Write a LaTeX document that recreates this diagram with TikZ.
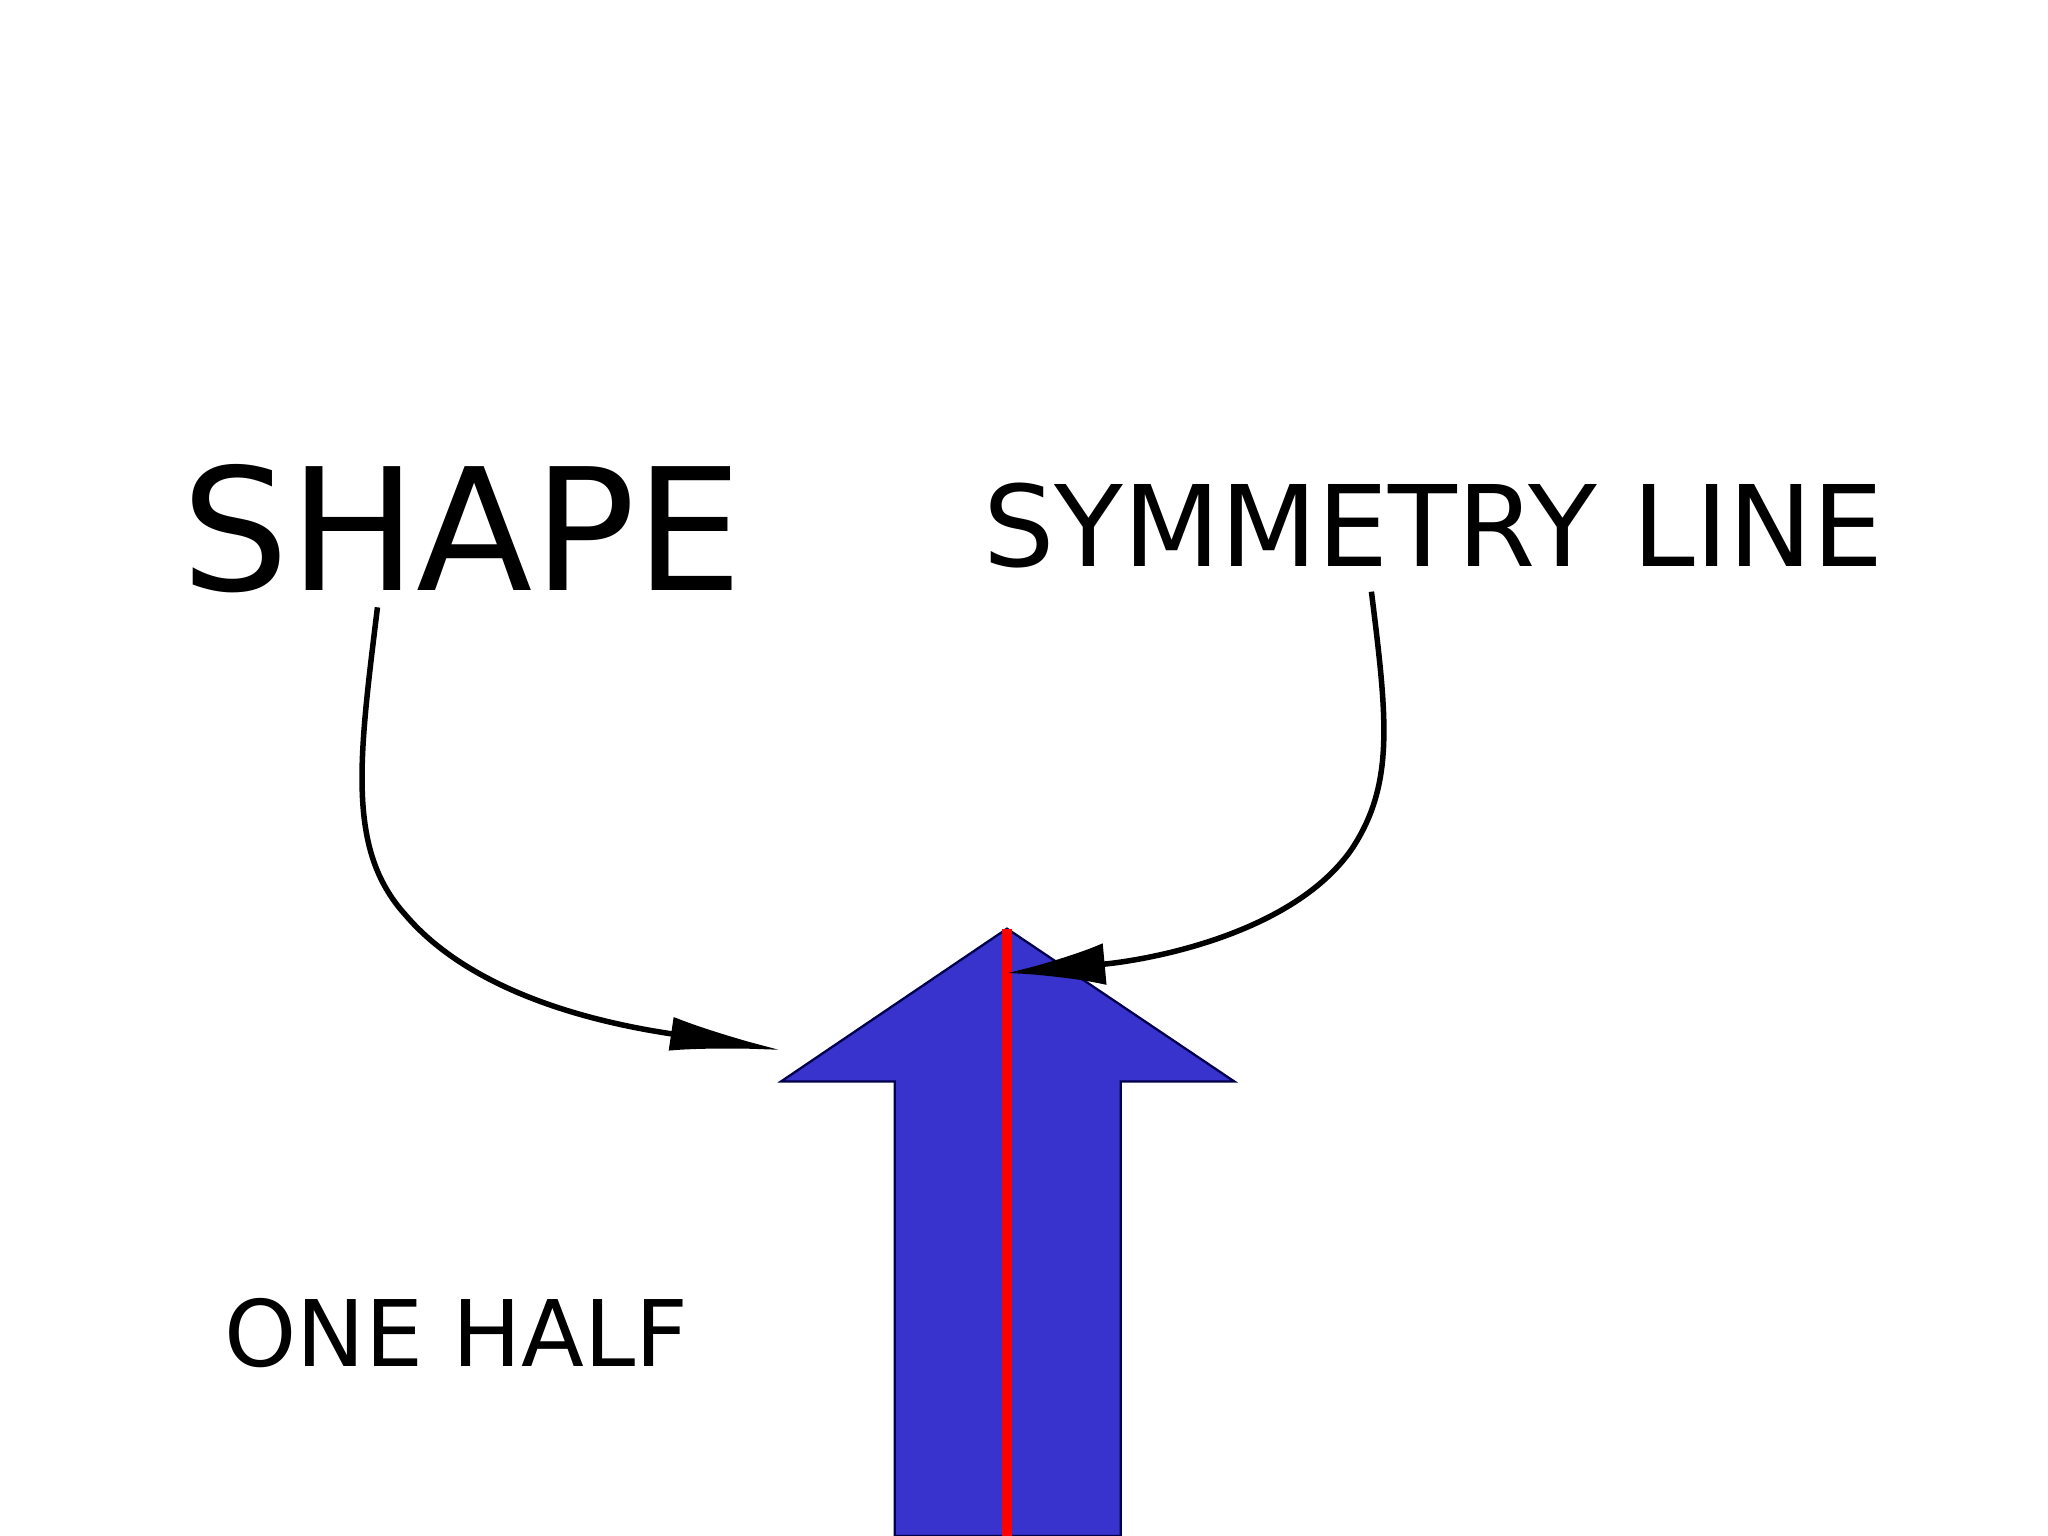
\documentclass[tikz,border=0pt]{standalone}
\usepackage{fontspec}
\setmainfont{DejaVu Sans}
\usetikzlibrary{arrows.meta}
\definecolor{shapeblue}{HTML}{3733CC}
\begin{document}
\begin{tikzpicture}[x=0.01cm,y=-0.01cm,
  lbl/.style={inner sep=0pt,anchor=south west},
  conn/.style={line width=1.2pt}]
\useasboundingbox (0,0) rectangle (1568,1176);
\fill[white] (0,0) rectangle (1568,1176);
\filldraw[fill=shapeblue,draw=black!70!blue,line width=0.5pt]
  (598,828) -- (771,711) -- (945,828) -- (858,828) -- (858,1176) -- (685,1176) -- (685,828) -- cycle;
\coordinate (top) at (771,711);
\coordinate (bot) at (771,1176);
\draw[red,line width=0.07cm] (top) -- (bot);
\node[lbl,font=\fontsize{37}{40}\selectfont] (shape) at (138,455) {SHAPE};
\node[lbl,font=\fontsize{24.5}{28}\selectfont] (sym) at (752,436) {SYMMETRY LINE};
\node[lbl,font=\fontsize{20}{24}\selectfont] (half) at (171,1048) {ONE HALF};
\coordinate (s0) at (289,465);
\coordinate (s1) at (598,804);
\coordinate (y0) at (1050,453);
\coordinate (y1) at (771,745);
\draw[conn,-{Latex[length=0.85cm,width=0.26cm]}] (s0) .. controls (275,580) and (265,650) .. (310,700)
  .. controls (365,765) and (470,785) .. (s1);
\draw[conn,-{Latex[length=0.75cm,width=0.32cm]}] (y0) .. controls (1062,550) and (1068,600) .. (1035,650)
  .. controls (990,715) and (880,735) .. (y1);
\end{tikzpicture}
\end{document}
